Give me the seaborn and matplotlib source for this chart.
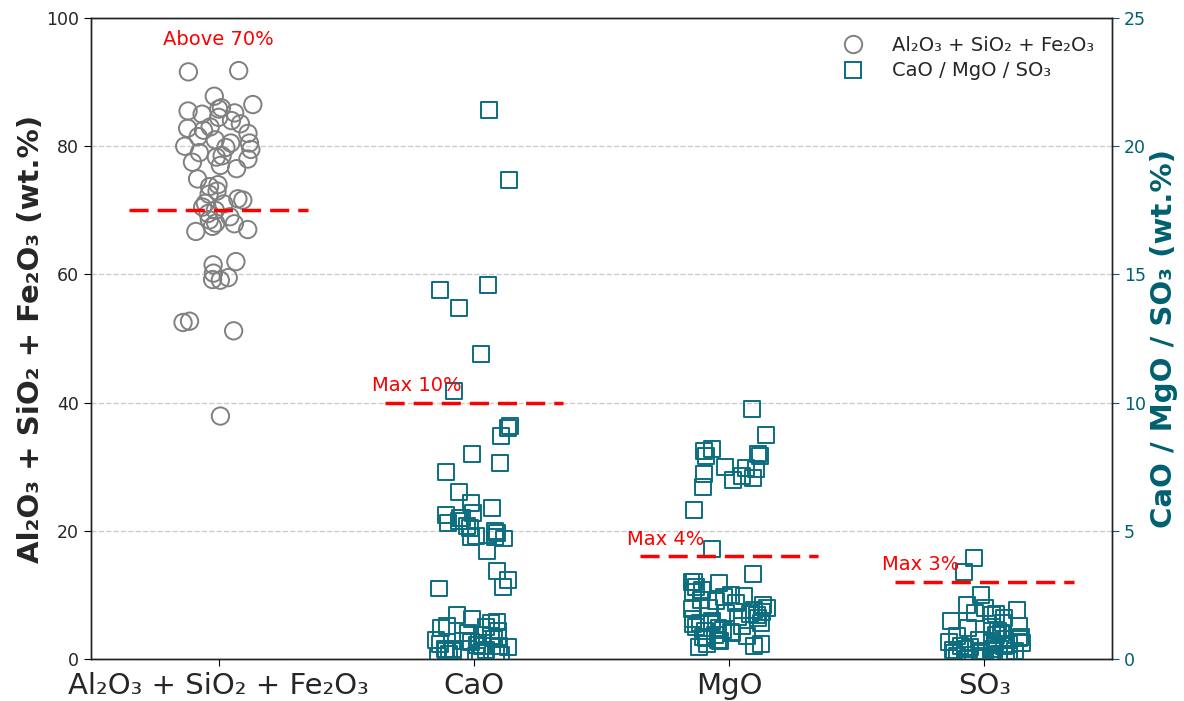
import numpy as np
import pandas as pd
import matplotlib
matplotlib.use("Agg")
import matplotlib.pyplot as plt
from matplotlib.lines import Line2D
import seaborn as sns

# ---- data (wt.%) ----
categories = ["Al₂O₃ + SiO₂ + Fe₂O₃", "CaO", "MgO", "SO₃"]

al_si_fe = [91.6, 91.8, 87.8, 85.2, 86.5, 86.0, 85.8, 85.5, 85.0, 84.5, 84.0,
            83.5, 83.0, 82.8, 82.5, 82.0, 81.5, 81.0, 80.5, 80.0, 79.8, 79.5,
            79.0, 78.5, 78.0, 77.5, 77.0, 76.5, 80.5, 78.3, 74.9, 74.0, 73.7,
            73.0, 72.5, 71.6, 71.8, 71.1, 71.0, 70.5, 70.0, 69.5, 69.0, 68.5,
            68.0, 67.9, 67.5, 67.0, 66.7, 62.0, 61.5, 60.2, 59.5, 59.1, 59.2,
            52.5, 52.7, 51.2, 37.9]

cao = [21.4, 18.7, 14.6, 14.4, 13.7, 11.9, 10.45, 9.1, 9.0, 8.7, 8.0, 7.65,
       7.3, 6.5, 6.1, 5.9, 5.7, 5.6, 5.5, 5.5, 5.4, 5.3, 5.2, 5.1, 5.0, 4.9,
       4.8, 4.77, 4.75, 4.7, 4.2, 3.45, 3.1, 2.75, 2.8, 1.7, 1.55, 1.45, 1.4,
       1.3, 1.25, 1.2, 0.7, 1.1, 1.0, 0.95, 0.9, 0.85, 0.8, 0.75, 0.7, 0.65,
       0.6, 0.55, 0.5, 0.5, 0.45, 0.4, 0.4, 0.35, 0.3, 0.3, 0.25, 0.2, 0.2,
       0.15, 0.1, 0.1]

mgo = [9.75, 8.75, 8.2, 8.1, 8.0, 7.9, 7.9, 7.5, 7.45, 7.4, 7.2, 7.15, 7.05,
       7.0, 6.7, 5.8, 4.3, 3.3, 3.0, 3.0, 2.95, 2.8, 2.7, 2.6, 2.5, 2.45, 2.4,
       2.3, 2.25, 2.2, 2.1, 2.0, 2.0, 1.95, 1.9, 1.85, 1.8, 1.75, 1.7, 1.65,
       1.6, 1.55, 1.5, 1.45, 1.42, 1.4, 1.35, 1.3, 1.25, 1.2, 1.15, 1.1, 1.05,
       1.0, 0.95, 0.9, 0.85, 0.8, 0.75, 0.7, 0.6, 0.58, 0.5, 0.48]

so3 = [3.95, 3.4, 2.5, 2.1, 2.0, 1.9, 1.8, 1.75, 1.7, 1.6, 1.5, 1.4, 1.3,
       1.25, 1.2, 1.1, 1.0, 0.95, 0.9, 0.85, 0.8, 0.75, 0.7, 0.65, 0.62, 0.6,
       0.55, 0.5, 0.5, 0.45, 0.4, 0.4, 0.35, 0.3, 0.3, 0.25, 0.25, 0.2, 0.2,
       0.15, 0.15, 0.1, 0.1, 0.1, 0.05, 0.05, 0.05, 0.02, 0.02]

# limits: (category, value, label, axis)
limits = [(0, 70, "Above 70%", "left"),
          (1, 10, "Max 10%", "right"),
          (2, 4, "Max 4%", "right"),
          (3, 3, "Max 3%", "right")]

legend_labels = ["Al₂O₃ + SiO₂ + Fe₂O₃", "CaO / MgO / SO₃"]

# ---- styling ----
GRAY = "#808080"
TEAL = "#0b6e80"
TEAL_TEXT = "#00606f"

sns.set_style("white")
plt.rcParams["font.family"] = ["DejaVu Sans"]

np.random.seed(7)

fig = plt.figure(figsize=(11.84, 7.01), dpi=100)
ax = fig.add_axes([0.0769, 0.0599, 0.8623, 0.9144])
ax2 = ax.twinx()

df_main = pd.DataFrame({"oxide": categories[0], "value": al_si_fe})
df_minor = pd.DataFrame({
    "oxide": [categories[1]] * len(cao) + [categories[2]] * len(mgo)
             + [categories[3]] * len(so3),
    "value": cao + mgo + so3,
})

sns.stripplot(data=df_main, x="oxide", y="value", order=categories, ax=ax,
              jitter=0.14, marker="o", size=12.5, color="none",
              edgecolor=GRAY, linewidth=1.4)
sns.stripplot(data=df_minor, x="oxide", y="value", order=categories, ax=ax2,
              jitter=0.15, marker="s", size=11.5, color="none",
              edgecolor=TEAL, linewidth=1.4)

# hollow markers
for a, ec in ((ax, GRAY), (ax2, TEAL)):
    for coll in a.collections:
        coll.set_facecolor("none")
        coll.set_edgecolor(ec)

# limit lines and labels
dash = (0, (5.5, 2.6))
for cat, val, txt, side in limits:
    target = ax if side == "left" else ax2
    target.hlines(val, cat - 0.35, cat + 0.35, colors="red",
                  linestyles=dash, linewidth=2.5, zorder=5)
    if side == "left":
        target.text(cat, 96.6, txt, color="red", fontsize=14,
                    ha="center", va="center")
    else:
        target.text(cat - 0.40, val + 0.3, txt, color="red", fontsize=14,
                    ha="left", va="bottom")

# axes limits & ticks
ax.set_xlim(-0.5, 3.5)
ax.set_ylim(0, 100)
ax2.set_ylim(0, 25)
ax.set_yticks([0, 20, 40, 60, 80, 100])
ax2.set_yticks([0, 5, 10, 15, 20, 25])

ax.yaxis.grid(True, color="#cccccc", linestyle="--", linewidth=1.0)
ax.set_axisbelow(True)
ax2.grid(False)

ax.set_xlabel("")
ax2.set_xlabel("")
ax.set_ylabel("Al₂O₃ + SiO₂ + Fe₂O₃ (wt.%)", fontsize=21,
              fontweight="bold", labelpad=1)
ax2.set_ylabel("CaO / MgO / SO₃ (wt.%)", fontsize=21, fontweight="bold",
               color=TEAL_TEXT, labelpad=3)

ax.tick_params(axis="x", labelsize=21, length=5, color="black", bottom=True,
               pad=4)
ax.tick_params(axis="y", labelsize=12.5, length=5, left=True, color="black")
ax2.tick_params(axis="y", labelsize=12.5, length=5, right=True,
                colors=TEAL_TEXT)

for a in (ax, ax2):
    for sp in a.spines.values():
        sp.set_visible(True)
        sp.set_color("#222222")
        sp.set_linewidth(1.0)

# legend
handles = [
    Line2D([], [], marker="o", linestyle="none", markersize=12.5,
           markerfacecolor="none", markeredgecolor=GRAY, markeredgewidth=1.4),
    Line2D([], [], marker="s", linestyle="none", markersize=11.5,
           markerfacecolor="none", markeredgecolor=TEAL, markeredgewidth=1.4),
]
ax2.legend(handles, legend_labels, loc="upper right", frameon=False,
           fontsize=14, handletextpad=1.0, borderaxespad=0.5,
           labelspacing=0.35)

fig.savefig("out.png", dpi=100)
